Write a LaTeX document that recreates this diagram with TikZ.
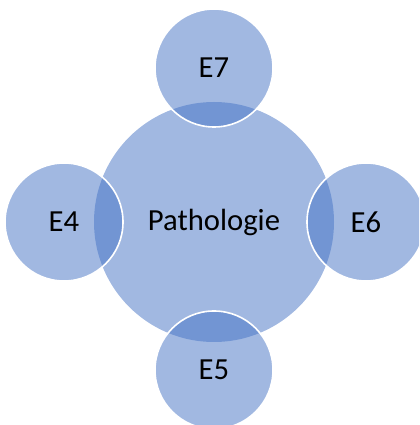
\documentclass[tikz,border=0pt]{standalone}
\usepackage{fontspec}
\setmainfont{Carlito}
\definecolor{petal}{HTML}{4472C4}
\tikzset{
  hub/.style={circle, fill=petal, fill opacity=0.5, text opacity=1, minimum size=180pt, inner sep=0pt},
  bubble/.style={circle, fill=petal, fill opacity=0.5, text opacity=1, draw=white, line width=1.2pt, minimum size=88.5pt, inner sep=0pt},
}
\begin{document}
\begin{tikzpicture}[x=0.75pt,y=0.75pt,font=\fontsize{23}{28}\selectfont]
        % Frame
        \useasboundingbox (0,0) rectangle (419,425);
        \clip (0,0) rectangle (419,425);
        
        % Centre circle
        \node[hub] (patho) at (214,203) {Pathologie};
        
        % Outer circles
        \node[bubble] (e7) at (214,357) {E7};
        \node[bubble] (e4) at (64,203) {E4};
        \node[bubble] (e6) at (366,203) {E6};
        \node[bubble] (e5) at (214,55) {E5};
    \end{tikzpicture}
\end{document}
